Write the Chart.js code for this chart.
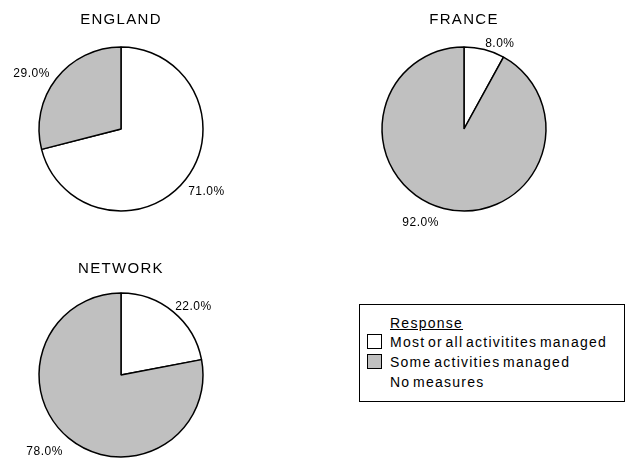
<!DOCTYPE html>
<html>
<head>
<meta charset="utf-8">
<script src="https://cdn.jsdelivr.net/npm/chart.js@4.4.1/dist/chart.umd.min.js"></script>
<style>
  html, body { margin: 0; padding: 0; background: #fff; }
  body { width: 625px; height: 459px; position: relative; overflow: hidden;
         font-family: "Liberation Sans", Arial, sans-serif; color: #000; }
  canvas.pie { position: absolute; }
  .title { position: absolute; width: 200px; text-align: center; font-size: 15px;
           letter-spacing: 1.3px; line-height: 16px; }
  #legend { position: absolute; left: 359px; top: 304px; width: 266px; height: 98px;
            box-sizing: border-box; border: 1.5px solid #000; font-size: 14px;
            letter-spacing: 1.25px; word-spacing: -2.5px; }
  #legend .row { position: absolute; left: 0; height: 18px; line-height: 18px; white-space: nowrap; }
  #legend .sw { position: absolute; left: 7px; top: 1px; width: 15px; height: 15px;
                box-sizing: border-box; border: 1.5px solid #000; }
  #legend .txt { position: absolute; left: 30px; top: 0; }
  #legend .head { text-decoration: underline; }
</style>
</head>
<body>
<script>
// Response categories and colours
const categories = ["Most or all activitites managed", "Some activities managed", "No measures"];
const sliceColors = ["#FFFFFF", "#C0C0C0", "rgba(0,0,0,0)"];
const legendTitle = "Response";

// Share of sites (%) per region, in category order
const regions = ["ENGLAND", "FRANCE", "NETWORK"];
const englandValues = [71.0, 29.0, 0.0];
const franceValues  = [8.0, 92.0, 0.0];
const networkValues = [22.0, 78.0, 0.0];

// Page placement of each pie: centre and radius
const pieLayout = [
  { cx: 121, cy: 129, r: 82, titleY: 11 },
  { cx: 464, cy: 129, r: 82, titleY: 11 },
  { cx: 121, cy: 375, r: 82, titleY: 260 }
];
const seriesByRegion = [englandValues, franceValues, networkValues];

// Percentage labels just outside each slice, anchored at the corner nearest the pie
const outsideLabels = {
  id: "outsideLabels",
  afterDatasetsDraw(chart) {
    const ctx = chart.ctx;
    const meta = chart.getDatasetMeta(0);
    const data = chart.data.datasets[0].data;
    ctx.save();
    ctx.font = "12px 'Liberation Sans', Arial, sans-serif";
    ctx.fillStyle = "#000";
    if ("letterSpacing" in ctx) ctx.letterSpacing = "0.5px";
    meta.data.forEach((arc, i) => {
      const v = data[i];
      if (!v) return;
      const p = arc.getProps(["x", "y", "startAngle", "endAngle", "outerRadius"], true);
      const mid = (p.startAngle + p.endAngle) / 2;
      const c = Math.cos(mid), s = Math.sin(mid);
      const d = p.outerRadius + 3;
      const x = p.x + c * d + (c >= 0 ? 0 : -4);
      const y = p.y + s * d + (s >= 0 ? 5 : 3);
      ctx.textAlign = c >= 0 ? "left" : "right";
      ctx.textBaseline = s >= 0 ? "top" : "bottom";
      ctx.fillText(v.toFixed(1) + "%", x, y);
    });
    ctx.restore();
  }
};

const SIZE = 260;
regions.forEach((name, k) => {
  const lay = pieLayout[k];
  const cv = document.createElement("canvas");
  cv.className = "pie";
  cv.width = SIZE; cv.height = SIZE;
  cv.style.left = (lay.cx - SIZE / 2) + "px";
  cv.style.top = (lay.cy - SIZE / 2) + "px";
  document.body.appendChild(cv);

  const t = document.createElement("div");
  t.className = "title";
  t.textContent = name;
  t.style.left = (lay.cx - 100) + "px";
  t.style.top = lay.titleY + "px";
  document.body.appendChild(t);

  new Chart(cv, {
    type: "pie",
    data: {
      labels: categories,
      datasets: [{
        data: seriesByRegion[k],
        backgroundColor: sliceColors,
        borderColor: "#000",
        borderWidth: 1.5,
        borderAlign: "center"
      }]
    },
    options: {
      responsive: false,
      animation: false,
      radius: lay.r,
      layout: { padding: 0 },
      plugins: { legend: { display: false }, tooltip: { enabled: false } }
    },
    plugins: [outsideLabels]
  });
});

// Legend box
const legend = document.createElement("div");
legend.id = "legend";
document.body.appendChild(legend);
const rowTops = [9, 28, 48, 68];
const head = document.createElement("div");
head.className = "row";
head.style.top = rowTops[0] + "px";
head.innerHTML = '<span class="txt head"></span>';
head.querySelector(".txt").textContent = legendTitle;
legend.appendChild(head);
categories.forEach((cat, i) => {
  const row = document.createElement("div");
  row.className = "row";
  row.style.top = rowTops[i + 1] + "px";
  if (seriesByRegion.some(s => s[i] > 0)) {
    const sw = document.createElement("span");
    sw.className = "sw";
    sw.style.background = sliceColors[i];
    row.appendChild(sw);
  }
  const tx = document.createElement("span");
  tx.className = "txt";
  tx.textContent = cat;
  row.appendChild(tx);
  legend.appendChild(row);
});
</script>
</body>
</html>
